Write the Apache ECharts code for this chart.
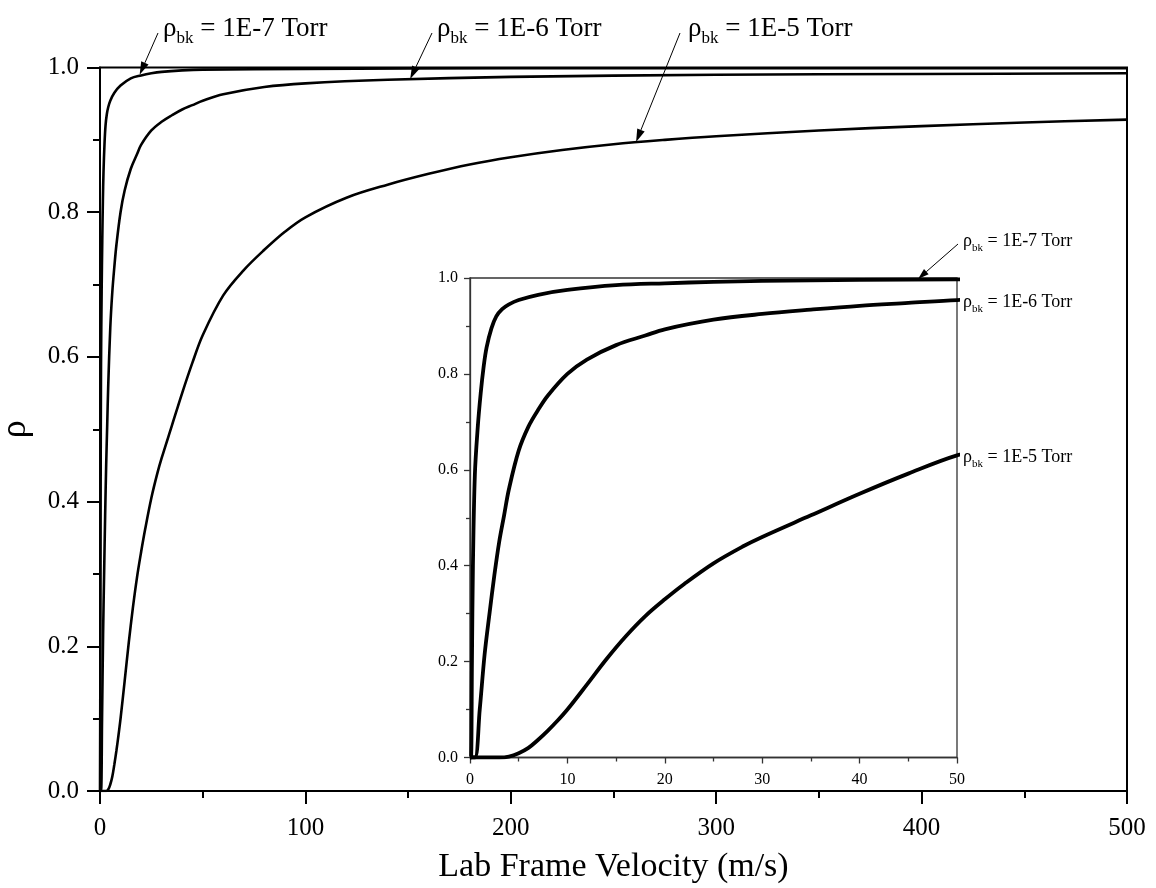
<!DOCTYPE html>
<html>
<head>
<meta charset="utf-8">
<script src="https://cdn.jsdelivr.net/npm/echarts@6/dist/echarts.min.js"></script>
<style>html,body{margin:0;padding:0;background:#fff}#c{width:1156px;height:888px}</style>
</head>
<body>
<div id="c"></div>
<script>
// ---- data: [lab frame velocity (m/s), rho] ----
const rho_1e7 = [[0,0],[0.1,0],[0.2,0.2],[0.3,0.4],[0.5,0.59],[0.8,0.69],[1.1,0.76],[1.4,0.815],[1.7,0.855],[2.2,0.895],[2.7,0.92],[3.3,0.935],[4,0.945],[5,0.954],[7,0.965],[10,0.975],[15,0.985],[20,0.989],[25,0.992],[30,0.994],[40,0.996],[50,0.997],[100,0.998],[200,0.999],[500,0.999]];
const rho_1e6 = [[0,0],[0.5,0],[1,0.1],[1.5,0.215],[2,0.3],[2.5,0.38],[3,0.45],[3.5,0.505],[4,0.56],[5,0.64],[6,0.69],[7,0.725],[8,0.755],[10,0.8],[12,0.83],[15,0.86],[18,0.88],[20,0.893],[25,0.913],[30,0.925],[35,0.934],[40,0.942],[45,0.948],[50,0.954],[60,0.963],[80,0.973],[100,0.978],[140,0.983],[200,0.987],[300,0.99],[400,0.991],[500,0.992]];
const rho_1e5 = [[0,0],[3,0],[4,0.002],[5,0.009],[6,0.02],[7,0.037],[8,0.056],[9,0.077],[10,0.1],[12,0.152],[14,0.205],[16,0.253],[18,0.295],[20,0.33],[22,0.362],[25,0.405],[28,0.44],[30,0.46],[35,0.505],[40,0.55],[45,0.592],[50,0.63],[60,0.685],[70,0.72],[80,0.748],[90,0.773],[100,0.793],[120,0.82],[140,0.838],[160,0.853],[180,0.866],[200,0.876],[225,0.886],[250,0.894],[275,0.9],[300,0.905],[350,0.913],[400,0.919],[450,0.924],[500,0.928]];
const pressures = ['1E-7', '1E-6', '1E-5'];
const curves = [rho_1e7, rho_1e6, rho_1e5];
const mainXTicks = [0, 100, 200, 300, 400, 500];
const insetXTicks = [0, 10, 20, 30, 40, 50];
const xTitle = 'Lab Frame Velocity (m/s)';
const yTitle = 'ρ';

const FONT = '"Liberation Serif", "Times New Roman", serif';
const chart = echarts.init(document.getElementById('c'), null, {renderer: 'canvas'});

function xAxisDef(gi, max, interval, fs, tickLen, minorLen, lw, col, margin, name) {
  return {
    type: 'value', gridIndex: gi, min: 0, max: max, interval: interval,
    name: name || '', nameLocation: 'middle', nameGap: 59,
    nameTextStyle: {fontFamily: FONT, fontSize: 34, color: '#000'},
    axisLine: {show: true, onZero: false, lineStyle: {color: col, width: lw}},
    axisTick: {show: true, length: tickLen, lineStyle: {color: col, width: lw}},
    minorTick: {show: true, splitNumber: 2, length: minorLen, lineStyle: {color: col, width: lw}},
    splitLine: {show: false}, minorSplitLine: {show: false},
    axisLabel: {fontFamily: FONT, fontSize: fs, color: '#000', margin: margin}
  };
}
function yAxisDef(gi, fs, tickLen, minorLen, lw, col, margin, name) {
  return {
    type: 'value', gridIndex: gi, min: 0, max: 1, interval: 0.2,
    name: name || '', nameLocation: 'middle', nameGap: 66, nameRotate: 90,
    nameTextStyle: {fontFamily: FONT, fontSize: 36, color: '#000'},
    axisLine: {show: true, onZero: false, lineStyle: {color: col, width: lw}},
    axisTick: {show: true, length: tickLen, lineStyle: {color: col, width: lw}},
    minorTick: {show: true, splitNumber: 2, length: minorLen, lineStyle: {color: col, width: lw}},
    splitLine: {show: false}, minorSplitLine: {show: false},
    axisLabel: {fontFamily: FONT, fontSize: fs, color: '#000', margin: margin,
      formatter: v => v.toFixed(1)}
  };
}

const series = [];
curves.forEach((d, i) => {
  series.push({type: 'line', name: pressures[i] + ' main', xAxisIndex: 0, yAxisIndex: 0, data: d,
    showSymbol: false, smooth: 0.35, lineStyle: {color: '#000', width: 2.6}, z: 3});
  series.push({type: 'line', name: pressures[i] + ' inset', xAxisIndex: 1, yAxisIndex: 1, data: d,
    showSymbol: false, smooth: 0.35, lineStyle: {color: '#000', width: 3.8}, z: 6});
});

chart.setOption({
  animation: false,
  backgroundColor: '#fff',
  grid: [
    {left: 100, top: 67.5, right: 29, bottom: 97, show: true, borderColor: '#000', borderWidth: 2, z: 1,
      containLabel: false, outerBoundsMode: 'none'},
    {left: 470, top: 278, width: 487, height: 479.5, show: true, borderColor: '#333', borderWidth: 1.3,
      backgroundColor: '#fff', z: 4, containLabel: false, outerBoundsMode: 'none'}
  ],
  xAxis: [
    xAxisDef(0, 500, 100, 25, 13, 7, 2, '#000', 25, xTitle),
    Object.assign(xAxisDef(1, 50, 10, 16, 6, 4, 1.3, '#333', 14), {z: 5})
  ],
  yAxis: [
    yAxisDef(0, 25, 13, 7, 2, '#000', 21, yTitle),
    Object.assign(yAxisDef(1, 16, 6, 4, 1.3, '#333', 12), {z: 5})
  ],
  series: series
});

// ---- annotations (label position in px, arrow tip on the curve in data units) ----
const mainNotes = [
  {p: '1E-7', text: [163, 27], tail: [158, 33], tip: [19.3, 0.99]},
  {p: '1E-6', text: [437, 27], tail: [432, 33], tip: [151, 0.984]},
  {p: '1E-5', text: [688, 27], tail: [680, 33], tip: [261, 0.897]}
];
const insetNotes = [
  {p: '1E-7', text: [963, 240], tail: [958, 244], tip: [46, 0.998]},
  {p: '1E-6', text: [963, 301]},
  {p: '1E-5', text: [963, 456]}
];

function label(n, big, sub, dy) {
  return {
    type: 'text', x: n.text[0], y: n.text[1] + dy, z: 100,
    style: {
      text: '{a|ρ}{b|bk}{a| = ' + n.p + ' Torr}',
      verticalAlign: 'middle', align: 'left',
      rich: {
        a: {fontFamily: FONT, fontSize: big, fill: '#000', verticalAlign: 'top', lineHeight: big + 2},
        b: {fontFamily: FONT, fontSize: sub, fill: '#000', verticalAlign: 'top', padding: [Math.round(big * 0.55), 0, 0, 0]}
      }
    }
  };
}
function arrow(t0, t1, len, wid) {
  const dx = t1[0] - t0[0], dy = t1[1] - t0[1];
  const L = Math.hypot(dx, dy), ux = dx / L, uy = dy / L;
  const bx = t1[0] - ux * len, by = t1[1] - uy * len;
  const px = -uy, py = ux;
  return [
    {type: 'line', z: 100, shape: {x1: t0[0], y1: t0[1], x2: bx, y2: by}, style: {stroke: '#000', lineWidth: 1}},
    {type: 'polygon', z: 100, shape: {points: [[t1[0], t1[1]], [bx + px * wid / 2, by + py * wid / 2], [bx - px * wid / 2, by - py * wid / 2]]}, style: {fill: '#000'}}
  ];
}
const g = [];
mainNotes.forEach(n => {
  g.push(label(n, 27, 17, 4));
  const tip = chart.convertToPixel({xAxisIndex: 0, yAxisIndex: 0}, n.tip);
  g.push(...arrow(n.tail, tip, 13, 8));
});
insetNotes.forEach(n => {
  g.push(label(n, 18, 11, 3));
  if (n.tip) {
    const tip = chart.convertToPixel({xAxisIndex: 1, yAxisIndex: 1}, n.tip);
    g.push(...arrow(n.tail, tip, 11, 7));
  }
});
chart.setOption({graphic: g});
</script>
</body>
</html>
